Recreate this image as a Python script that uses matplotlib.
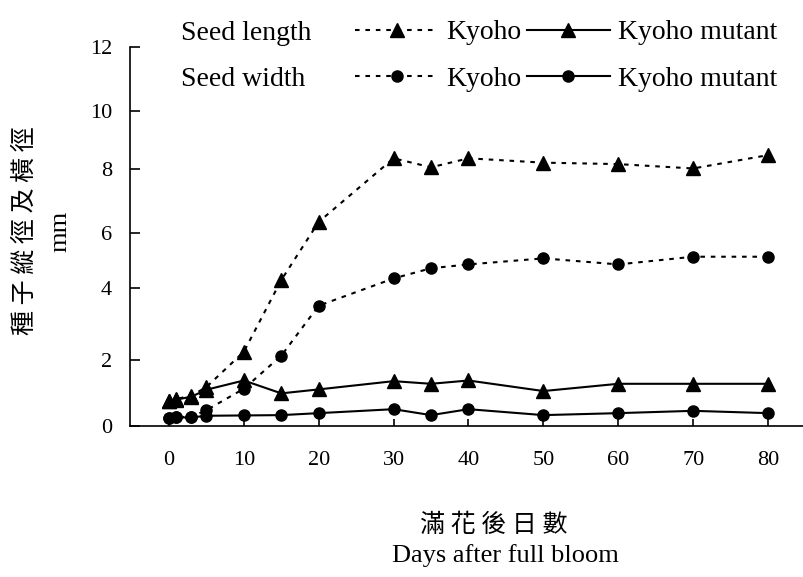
import numpy as np
import matplotlib
matplotlib.use("Agg")
import matplotlib.pyplot as plt

# days after full bloom
days = [0, 1, 3, 5, 10, 15, 20, 30, 35, 40, 50, 60, 70, 80]

# seed length / width (mm)
kyoho_len = [0.75, 0.82, 0.92, 1.18, 2.23, 4.29, 6.35, 8.37, 8.06, 8.37, 8.22, 8.17, 8.02, 8.48]
mutant_len = [0.75, 0.80, 0.89, 1.10, 1.38, 0.99, 1.11, 1.36, 1.28, 1.38, 1.06, 1.28, 1.28, 1.28]
kyoho_wid = [0.25, 0.27, 0.28, 0.48, 1.13, 2.12, 3.51, 4.35, 4.72, 4.86, 5.08, 4.86, 5.14, 5.14]
mutant_wid = [0.24, 0.26, 0.26, 0.31, 0.32, 0.33, 0.39, 0.51, 0.33, 0.51, 0.33, 0.39, 0.46, 0.39]

xticks = [0, 10, 20, 30, 40, 50, 60, 70, 80]
yticks = [0, 2, 4, 6, 8, 10, 12]

# the original y axis is drawn with uneven tick spacing; calibrate the scale to it
ytick_frac = [0, 0.174, 0.364, 0.509, 0.678, 0.831, 1.0]

def yfwd(v):
    return np.interp(v, yticks, ytick_frac)

def yinv(f):
    return np.interp(f, ytick_frac, yticks)

serif = 'Liberation Serif'
cjk = ['Noto Sans CJK TC', 'DejaVu Sans']
plt.rcParams['font.family'] = serif

fig = plt.figure(figsize=(8.04, 5.77), dpi=100)
ax = fig.add_axes([130 / 804, 1 - 426 / 577, 674 / 804, 379 / 577])

dash = (0, (2.2, 2.8))
l1, = ax.plot(days, kyoho_len, color='black', lw=1.5, linestyle=dash,
              marker='^', markersize=10, label='Kyoho')
l2, = ax.plot(days, kyoho_wid, color='black', lw=1.5, linestyle=dash,
              marker='o', markersize=8, label='Kyoho')
l3, = ax.plot(days, mutant_len, color='black', lw=1.5, linestyle='-',
              marker='^', markersize=10, label='Kyoho mutant')
l4, = ax.plot(days, mutant_wid, color='black', lw=1.5, linestyle='-',
              marker='o', markersize=8, label='Kyoho mutant')

ax.set_yscale('function', functions=(yfwd, yinv))
ax.set_xlim(-5.2, 84.8)
ax.set_ylim(0, 12)
ax.set_xticks(xticks)
ax.set_yticks(yticks)
ax.set_xticklabels([str(t) for t in xticks], fontsize=16)
ax.set_yticklabels([str(t) for t in yticks], fontsize=16)
ax.minorticks_off()

ax.spines['top'].set_visible(False)
ax.spines['right'].set_visible(False)
ax.spines['left'].set_linewidth(1.2)
ax.spines['bottom'].set_linewidth(1.2)
ax.tick_params(axis='x', direction='in', length=5, width=1.2, pad=18)
ax.tick_params(axis='y', direction='in', length=7, width=1.2, pad=13)

# legend block at top
fig.text(181 / 804, 1 - 33 / 577, 'Seed length', fontsize=20, va='center', ha='left')
fig.text(181 / 804, 1 - 79 / 577, 'Seed width', fontsize=20, va='center', ha='left')
fig.legend(handles=[l1, l2, l3, l4], ncol=2, loc='upper left',
           bbox_to_anchor=(355 / 804, 1 - 20 / 577), frameon=False,
           fontsize=20, numpoints=1, handlelength=3.0, handletextpad=0.3,
           columnspacing=0.18, labelspacing=0.75, borderpad=0, borderaxespad=0)

# axis labels
fig.text(25 / 804, 1 - 231 / 577, '種 子 縱 徑 及 橫 徑', family=cjk, fontsize=18,
         rotation=90, ha='center', va='center')
fig.text(60 / 804, 1 - 231 / 577, 'mm', fontsize=19, rotation=90,
         ha='center', va='center')
fig.text(494 / 804, 1 - 525 / 577, '滿 花 後 日 數', family=cjk, fontsize=18,
         ha='center', va='center')
fig.text(505 / 804, 1 - 556 / 577, 'Days after full bloom', fontsize=19,
         ha='center', va='center')

fig.savefig('out.png', dpi=100)
